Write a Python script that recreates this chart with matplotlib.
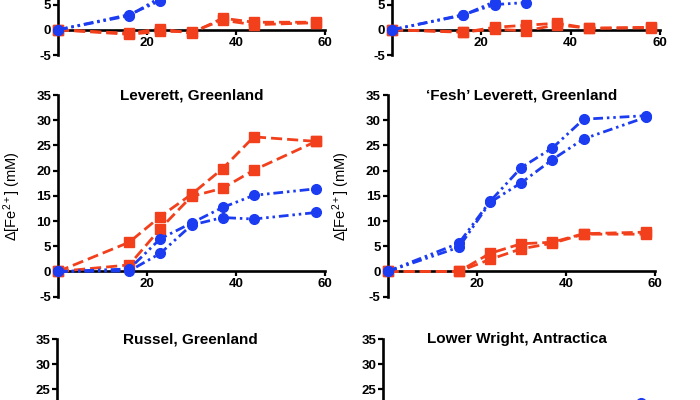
import numpy as np
import matplotlib
matplotlib.use("Agg")
import matplotlib.pyplot as plt

plt.rcParams['font.family'] = ['Liberation Sans', 'DejaVu Sans']
plt.rcParams['axes.unicode_minus'] = False
plt.rcParams['mathtext.fontset'] = 'custom'
plt.rcParams['mathtext.rm'] = 'Liberation Sans'
plt.rcParams['mathtext.it'] = 'Liberation Sans:italic'
plt.rcParams['mathtext.bf'] = 'Liberation Sans:bold'

nan = np.nan
days = [0, 16, 23, 30, 37, 44, 58]

# top-left panel (title cut off)
tl_red_a = [0, -0.7, 0.2, -0.7, 2.3, 1.5, 1.5]
tl_red_b = [0, -0.9, -0.3, -0.4, 1.9, 1.0, 1.4]
tl_blue_a = [0, 3.0, 5.8, nan, nan, nan, nan]
tl_blue_b = [0, 2.8, 6.4, nan, nan, nan, nan]

# top-right panel (title cut off)
tr_red_a = [0, -0.5, 0.5, 0.9, 1.3, 0.3, 0.5]
tr_red_b = [0, -0.4, 0.1, -0.2, 1.0, 0.3, 0.4]
tr_blue_a = [0, 3.0, 5.0, 5.4, nan, nan, nan]
tr_blue_b = [0, 2.9, 5.6, nan, nan, nan, nan]

# Leverett, Greenland
lev_red_a = [0, 5.8, 10.9, 15.3, 20.4, 26.7, 25.8]
lev_red_b = [0, 1.3, 8.5, 14.9, 16.5, 20.1, 25.8]
lev_blue_a = [0, 0.5, 6.5, 9.6, 12.7, 15.1, 16.4]
lev_blue_b = [0, 0.1, 3.6, 9.2, 10.7, 10.4, 11.7]

# 'Fesh' Leverett, Greenland
fesh_red_a = [0, 0.0, 3.6, 5.5, 5.8, 7.5, 7.8]
fesh_red_b = [0, 0.0, 2.4, 4.5, 5.6, 7.4, 7.4]
fesh_blue_a = [0, 5.6, 13.9, 20.6, 24.5, 30.2, 30.9]
fesh_blue_b = [0, 4.8, 13.7, 17.6, 22.2, 26.3, 30.6]

# Russel, Greenland (nothing visible)
rus_red_a = [nan] * 7
rus_blue_a = [nan] * 7

# Lower Wright, Antractica (only one point visible)
lw_red_a = [nan] * 7
lw_blue_a = [nan, nan, nan, nan, nan, nan, 22.4]

titles = ["", "", "Leverett, Greenland", "\u2018Fesh\u2019 Leverett, Greenland",
          "Russel, Greenland", "Lower Wright, Antractica"]
ylabel = '\u0394[Fe$^{2+}$] (mM)'

BLUE = '#1c3cf2'
RED = '#f2401c'
H = 201.7  # pixel height from -5 to 35

fig = plt.figure(figsize=(7, 4), dpi=100)


def make_axes(x0, x1, ytop):
    return fig.add_axes([x0 / 700, (400 - (ytop + H)) / 400, (x1 - x0) / 700, H / 400])


def style(ax, title, width_px, show_ylabel):
    ax.set_xlim(0, 60)
    ax.set_ylim(-5, 35)
    for s in ('top', 'right'):
        ax.spines[s].set_visible(False)
    ax.spines['bottom'].set_position(('data', 0))
    for s in ('left', 'bottom'):
        ax.spines[s].set_linewidth(1.9)
    ax.set_xticks([20, 40, 60])
    ax.set_yticks(np.arange(-5, 36, 5))
    ax.tick_params(direction='out', length=3.5, width=1.6, labelsize=9.5, pad=1.5)
    for lab in ax.get_xticklabels() + ax.get_yticklabels():
        lab.set_fontweight('bold')
    if show_ylabel:
        ax.set_ylabel(ylabel, fontsize=10.5)
        ax.yaxis.set_label_coords(-35 / width_px, 0.5)
    ax.patch.set_alpha(0)
    if title:
        ax.text(0.5, 1.0, title, transform=ax.transAxes, ha='center', va='center',
                fontsize=11, fontweight='bold')


def blue(ax, y):
    ax.plot(days, y, color=BLUE, lw=2.0, ls=(0, (3.5, 1.4, 0.9, 1.4, 0.9, 1.4)),
            marker='o', ms=7, mec=BLUE, mfc=BLUE, clip_on=False, zorder=4)


def red(ax, y):
    ax.plot(days, y, color=RED, lw=2.0, ls=(0, (4, 1.8)),
            marker='s', ms=6.5, mec=RED, mfc=RED, clip_on=False, zorder=3)


panels = [
    (58, 325, -146.7, [tl_red_a, tl_red_b], [tl_blue_a, tl_blue_b], False),
    (392, 660, -146.7, [tr_red_a, tr_red_b], [tr_blue_a, tr_blue_b], False),
    (58, 325, 95, [lev_red_a, lev_red_b], [lev_blue_a, lev_blue_b], True),
    (387.5, 655, 95, [fesh_red_a, fesh_red_b], [fesh_blue_a, fesh_blue_b], True),
    (57, 324, 339, [rus_red_a], [rus_blue_a], False),
    (383, 650, 339, [lw_red_a], [lw_blue_a], False),
]

for (x0, x1, yt, reds, blues, show_yl), title in zip(panels, titles):
    ax = make_axes(x0, x1, yt)
    style(ax, title, x1 - x0, show_yl)
    for r in reds:
        red(ax, r)
    for b in blues:
        blue(ax, b)

fig.savefig('out.png', dpi=100)
